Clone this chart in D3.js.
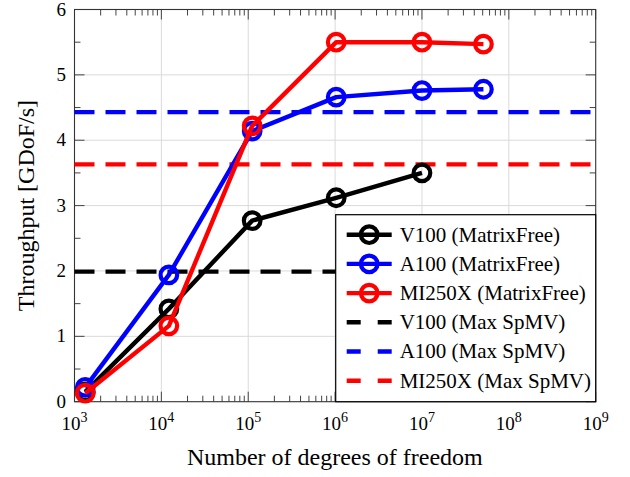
<!DOCTYPE html>
<html>
<head>
<meta charset="utf-8">
<script src="https://cdn.jsdelivr.net/npm/d3@7"></script>
<style>
  body { margin: 0; background: #fff; }
  text { font-family: "Liberation Serif", "Times New Roman", serif; fill: #000; }
</style>
</head>
<body>
<div class="chart"></div>
<script>
// data
var dofs = [1.33e3, 1.22e4, 1.11e5, 1.03e6, 1.0e7, 5.1e7];
var v100Free = [0.15, 1.42, 2.77, 3.12, 3.50];
var a100Free = [0.22, 1.94, 4.14, 4.66, 4.76, 4.78];
var mi250xFree = [0.13, 1.16, 4.22, 5.50, 5.50, 5.47];
var spmvNames = ["V100 (Max SpMV)", "A100 (Max SpMV)", "MI250X (Max SpMV)"];
var spmvValues = [1.99, 4.43, 3.63];
var freeNames = ["V100 (MatrixFree)", "A100 (MatrixFree)", "MI250X (MatrixFree)"];
var colors = ["#000000", "#0000ff", "#ff0000"];
var xMajor = [1e3, 1e4, 1e5, 1e6, 1e7, 1e8, 1e9];
var yMajor = [0, 1, 2, 3, 4, 5, 6];

var svgWidth = 630;
var svgHeight = 477;
var margin = { top: 9.5, right: 34.3, bottom: 75.3, left: 74.5 };
var width = svgWidth - margin.left - margin.right;
var height = svgHeight - margin.top - margin.bottom;

var svg = d3.select(".chart")
  .append("svg")
  .attr("width", svgWidth)
  .attr("height", svgHeight)
  .append("g")
  .attr("transform", "translate(" + margin.left + "," + margin.top + ")");

var x = d3.scaleLog().domain([1e3, 1e9]).range([0, width]);
var y = d3.scaleLinear().domain([0, 6]).range([height, 0]);

// minor tick values
var xMinor = [];
for (var d = 3; d < 9; d++) {
  for (var k = 2; k <= 9; k++) xMinor.push(k * Math.pow(10, d));
}
var yMinor = d3.range(0.5, 6, 1);

// grid
svg.append("g").selectAll("line").data(xMajor.slice(1, -1)).enter().append("line")
  .attr("x1", function(v) { return x(v); }).attr("x2", function(v) { return x(v); })
  .attr("y1", 0).attr("y2", height)
  .attr("stroke", "#dadada").attr("stroke-width", 1);
svg.append("g").selectAll("line").data(yMajor.slice(1, -1)).enter().append("line")
  .attr("y1", function(v) { return y(v); }).attr("y2", function(v) { return y(v); })
  .attr("x1", 0).attr("x2", width)
  .attr("stroke", "#dadada").attr("stroke-width", 1);

// ticks pointing inward on all four sides
var ticks = svg.append("g").attr("stroke", "#444").attr("stroke-width", 1);
function xTicks(vals, len) {
  vals.forEach(function(v) {
    ticks.append("line").attr("x1", x(v)).attr("x2", x(v)).attr("y1", height).attr("y2", height - len);
    ticks.append("line").attr("x1", x(v)).attr("x2", x(v)).attr("y1", 0).attr("y2", len);
  });
}
function yTicks(vals, len) {
  vals.forEach(function(v) {
    ticks.append("line").attr("y1", y(v)).attr("y2", y(v)).attr("x1", 0).attr("x2", len);
    ticks.append("line").attr("y1", y(v)).attr("y2", y(v)).attr("x1", width).attr("x2", width - len);
  });
}
xTicks(xMinor, 6);
xTicks(xMajor, 10);
yTicks(yMinor, 6);
yTicks(yMajor, 10);

// frame
svg.append("rect")
  .attr("width", width).attr("height", height)
  .attr("fill", "none").attr("stroke", "#333").attr("stroke-width", 1.1);

// tick labels
var xLab = svg.append("g").selectAll("text").data(xMajor).enter().append("text")
  .attr("x", function(v) { return x(v); })
  .attr("y", height + 28.3)
  .attr("text-anchor", "middle")
  .style("font-size", "19px");
xLab.append("tspan").text("10");
xLab.append("tspan")
  .attr("dy", -8)
  .style("font-size", "14px")
  .text(function(v) { return Math.round(Math.log10(v)); });

svg.append("g").selectAll("text").data(yMajor).enter().append("text")
  .attr("x", -8.5)
  .attr("y", function(v) { return y(v) + 6; })
  .attr("text-anchor", "end")
  .style("font-size", "19px")
  .text(function(v) { return v; });

// axis titles
svg.append("text")
  .attr("x", (186.7 + 483) / 2 - margin.left)
  .attr("y", height + 63.5)
  .attr("text-anchor", "middle")
  .style("font-size", "24px")
  .text("Number of degrees of freedom");

svg.append("text")
  .attr("transform", "translate(" + (34 - margin.left) + "," + (height / 2) + ") rotate(-90)")
  .attr("text-anchor", "middle")
  .style("font-size", "24px")
  .text("Throughput [GDoF/s]");

// max SpMV reference lines
spmvValues.forEach(function(v, i) {
  svg.append("line")
    .attr("x1", 0).attr("x2", width)
    .attr("y1", y(v)).attr("y2", y(v))
    .attr("stroke", colors[i]).attr("stroke-width", 4.4)
    .attr("stroke-dasharray", "20,11");
});

// matrix-free series
var series = [v100Free, a100Free, mi250xFree];
var line = d3.line()
  .x(function(d) { return x(d[0]); })
  .y(function(d) { return y(d[1]); });

series.forEach(function(vals, i) {
  var pts = vals.map(function(v, j) { return [dofs[j], v]; });
  svg.append("path")
    .datum(pts)
    .attr("d", line)
    .attr("fill", "none")
    .attr("stroke", colors[i])
    .attr("stroke-width", 4.4)
    .attr("stroke-linejoin", "round");
  svg.append("g").selectAll("circle").data(pts).enter().append("circle")
    .attr("cx", function(d) { return x(d[0]); })
    .attr("cy", function(d) { return y(d[1]); })
    .attr("r", 8.3)
    .attr("fill", "none")
    .attr("stroke", colors[i])
    .attr("stroke-width", 4.2);
});

// legend
var legW = 260, legH = 187, rowH = 29.2;
var legend = svg.append("g")
  .attr("transform", "translate(" + (width - legW) + "," + (height - legH) + ")");
legend.append("rect")
  .attr("width", legW).attr("height", legH)
  .attr("fill", "#fff").attr("stroke", "#000").attr("stroke-width", 1.2);

var entries = freeNames.map(function(n, i) { return { name: n, color: colors[i], dashed: false }; })
  .concat(spmvNames.map(function(n, i) { return { name: n, color: colors[i], dashed: true }; }));

entries.forEach(function(e, i) {
  var cy = 20 + i * rowH;
  var row = legend.append("g");
  row.append("line")
    .attr("x1", 11).attr("x2", 56)
    .attr("y1", cy).attr("y2", cy)
    .attr("stroke", e.color).attr("stroke-width", 4.4)
    .attr("stroke-dasharray", e.dashed ? "14,17" : null);
  if (!e.dashed) {
    row.append("circle")
      .attr("cx", 33.5).attr("cy", cy).attr("r", 8.3)
      .attr("fill", "none").attr("stroke", e.color).attr("stroke-width", 4.2);
  }
  row.append("text")
    .attr("x", 64).attr("y", cy + 7)
    .style("font-size", "21px")
    .text(e.name);
});
</script>
</body>
</html>
